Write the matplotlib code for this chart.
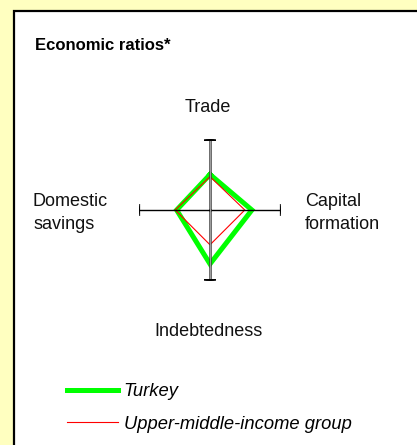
import numpy as np
import matplotlib
matplotlib.use("Agg")
import matplotlib.pyplot as plt
from matplotlib.patches import Rectangle

plt.rcParams['font.family'] = ['Liberation Sans', 'DejaVu Sans']

# data
categories = ['Trade', 'Capital\nformation', 'Indebtedness', 'Domestic\nsavings']
turkey = [0.50, 0.59, 0.76, 0.47]
upper_middle = [0.47, 0.49, 0.49, 0.49]
series_names = ['Turkey', 'Upper-middle-income group']

W, H = 417, 445
fig = plt.figure(figsize=(W / 100, H / 100), dpi=100)
fig.patch.set_facecolor('#FFFFC0')

# white panel with black border
fig.patches.append(Rectangle((14 / W, -0.1), 1.2, 1.1 - 11 / H,
                             transform=fig.transFigure, facecolor='white',
                             edgecolor='black', linewidth=1.6, zorder=-5))

fig.text(35 / W, 1 - 45 / H, 'Economic ratios*', fontsize=12, fontweight='bold',
         va='center', ha='left')

# radar in a polar axes
cx, cy, r = 210, 210, 71
ax = fig.add_axes([(cx - r) / W, (H - cy - r) / H, 2 * r / W, 2 * r / H],
                  projection='polar')
ax.set_theta_zero_location('N')
ax.set_theta_direction(-1)
ax.set_ylim(0, 1)
ax.axis('off')

angles = np.arange(len(categories)) * 2 * np.pi / len(categories)
closed = np.append(angles, angles[0])

ax.plot(closed, turkey + turkey[:1], color='#00FF00', lw=3.6,
        solid_joinstyle='miter', label=series_names[0], zorder=2)
ax.plot(closed, upper_middle + upper_middle[:1], color='#FF0000', lw=0.8,
        label=series_names[1], zorder=3)

# axis spokes with end caps
for i, a in enumerate(angles):
    vertical = i % 2 == 0
    if vertical:
        ax.plot([a, a], [0, 1], color='#404040', lw=1.8, zorder=4)
        ax.plot([a, a], [0, 1], color='#A0A0A0', lw=0.7, zorder=5)
    else:
        ax.plot([a, a], [0, 1], color='black', lw=1.0, zorder=4)
    ax.plot([a], [1], marker='_' if vertical else '|', markersize=9,
            markeredgewidth=1.6, color='black', zorder=6)

# category labels
lab = dict(fontsize=13, color='#111111')
fig.text(208 / W, 1 - 107 / H, categories[0], ha='center', va='center', **lab)
fig.text(305 / W, 1 - 213 / H, categories[1], ha='left', va='center',
         linespacing=1.5, **lab)
fig.text(208 / W, 1 - 331 / H, categories[2], ha='center', va='center', **lab)
fig.text(33 / W, 1 - 213 / H, categories[3], ha='left', va='center',
         linespacing=1.5, **lab)

fig.legend(loc='center left', bbox_to_anchor=(67 / W, 1 - 408 / H),
           frameon=False, prop={'style': 'italic', 'size': 13.2},
           handlelength=2.8, handletextpad=0.3, labelspacing=0.85,
           borderpad=0, borderaxespad=0)

fig.savefig('out.png', dpi=100, facecolor=fig.get_facecolor())
